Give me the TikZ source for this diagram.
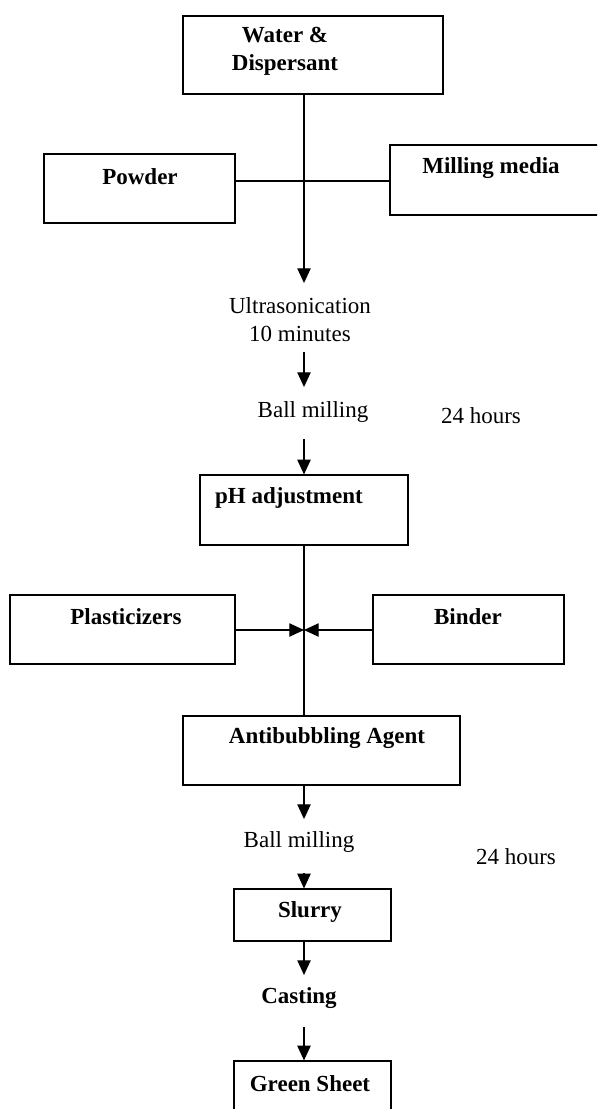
\documentclass[tikz,border=0pt]{standalone}
\usepackage{fontspec}
\setmainfont{Liberation Serif}
\usetikzlibrary{positioning, arrows.meta}

\begin{document}
\begin{tikzpicture}[x=0.75pt, y=-0.75pt,
    stage/.style={rectangle, draw, line width=0.9pt, inner sep=0pt},
    note/.style={font=\fontsize{17.25}{21}\selectfont, inner sep=0pt, align=center},
    bnote/.style={note, font=\fontsize{17.25}{21}\selectfont\bfseries},
    flow/.style={draw, line width=0.9pt, -{Triangle[length=11pt, width=10pt]}},
    link/.style={draw, line width=0.9pt}
    ]
    \clip (0,0) rectangle (597,1109);
    % boxes
    \node [stage, minimum width=195pt, minimum height=58.5pt] (water) at (313,55) {};
    \node [stage, minimum width=143.25pt, minimum height=51.75pt] (powder) at (139.5,188.5) {};
    \node [stage, minimum width=168.75pt, minimum height=52.5pt] (milling) at (502.5,180) {};
    \node [stage, minimum width=156pt, minimum height=52.5pt] (ph) at (304,510) {};
    \node [stage, minimum width=168.75pt, minimum height=51.75pt] (plast) at (122.5,629.5) {};
    \node [stage, minimum width=143.25pt, minimum height=51.75pt] (binder) at (468.5,629.5) {};
    \node [stage, minimum width=207.75pt, minimum height=51.75pt] (anti) at (321.5,750.5) {};
    \node [stage, minimum width=117.75pt, minimum height=39pt] (slurry) at (312.5,915) {};
    \node [stage, minimum width=117.75pt, minimum height=45pt] (green) at (312.5,1091) {};
    % texts
    \node [bnote] (watertxt) at (285,51) {Water \&\\Dispersant};
    \node [bnote] (powdertxt) at (140,177) {Powder};
    \node [bnote] (millingtxt) at (491,168) {Milling media};
    \node [note] (ultra) at (300,320) {Ultrasonication\\10 minutes};
    \node [note] (ball1) at (313,412) {Ball milling};
    \node [note] (hours1) at (481,416) {24 hours};
    \node [bnote] (phtxt) at (289,498) {pH adjustment};
    \node [bnote] (plasttxt) at (126,617) {Plasticizers};
    \node [bnote] (bindertxt) at (468,617) {Binder};
    \node [bnote] (antitxt) at (327,738) {Antibubbling Agent};
    \node [note] (ball2) at (299,842) {Ball milling};
    \node [note] (hours2) at (516,857) {24 hours};
    \node [bnote] (slurrytxt) at (310,912) {Slurry};
    \node [bnote] (casting) at (299,998) {Casting};
    \node [bnote] (greentxt) at (310,1084) {Green Sheet};
    % joints and free arrow ends
    \coordinate (cross) at (304,181);
    \coordinate (mix) at (304,630);
    \coordinate (t1) at (304,283);
    \coordinate (s2) at (304,352);
    \coordinate (t2) at (304,387);
    \coordinate (s3) at (304,439);
    \coordinate (t4) at (304,819);
    \coordinate (s5) at (304,873);
    \coordinate (t6) at (304,975);
    \coordinate (s7) at (304,1027);
    % connectors
    \draw [link] (powder.east |- cross) -- (milling.west |- cross);
    \draw [flow] (water.south -| cross) -- (t1);
    \draw [flow] (s2) -- (t2);
    \draw [flow] (s3) -- (ph.north);
    \draw [link] (ph.south) -- (anti.north -| ph.south);
    \draw [flow] (plast.east |- mix) -- (mix);
    \draw [flow] (binder.west |- mix) -- (mix);
    \draw [flow] (anti.south -| mix) -- (t4);
    \draw [flow] (s5) -- (slurry.north -| mix);
    \draw [flow] (slurry.south -| mix) -- (t6);
    \draw [flow] (s7) -- (green.north -| mix);
\end{tikzpicture}
\end{document}
